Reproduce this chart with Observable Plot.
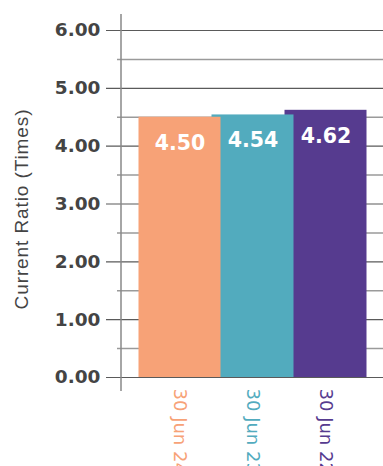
<!DOCTYPE html>
<html>
<head>
<meta charset="utf-8">
<script src="https://cdn.jsdelivr.net/npm/d3@7"></script>
<script src="https://cdn.jsdelivr.net/npm/@observablehq/plot@0.6"></script>
<style>
  html, body { margin: 0; padding: 0; background: #ffffff; }
  .axis-title text { letter-spacing: 0.9px; }
</style>
</head>
<body>
<div id="chart"></div>
<script>
// Current ratio at each balance date
const periods = ["30 Jun 24", "30 Jun 23", "30 Jun 22"];
const ratios = [4.50, 4.54, 4.62];
const barColors = ["#F7A277", "#52ABBE", "#563B8F"];

// Value axis: labelled whole units, unlabelled half-unit guides
const majorTicks = [0, 1, 2, 3, 4, 5, 6];
const minorTicks = [0.5, 1.5, 2.5, 3.5, 4.5, 5.5];
const axisTitle = "Current Ratio (Times)";

const rows = periods.map((period, i) => ({period, ratio: ratios[i], color: barColors[i]}));
// Later periods are painted first so the newer bars overlap them
const paintOrder = rows.slice().reverse();

const chart = Plot.plot({
  width: 383,
  height: 466,
  marginLeft: 106,
  marginRight: 0,
  marginTop: 30,
  marginBottom: 89,
  style: {background: "#ffffff", fontFamily: "DejaVu Sans"},
  x: {domain: periods, range: [142.5, 361.5], padding: 0, axis: null},
  y: {domain: [0, 6], axis: null},
  marks: [
    Plot.ruleY(minorTicks, {stroke: "#9a9a9a", strokeWidth: 1.5, insetLeft: 11}),
    Plot.ruleY(majorTicks.slice(1), {stroke: "#5a5a5a", strokeWidth: 1.2}),
    Plot.barY(paintOrder, {
      x: "period", y: "ratio", fill: "color",
      insetLeft: -4.5, insetRight: -4.5
    }),
    Plot.ruleY([0], {stroke: "#5a5a5a", strokeWidth: 1.2}),
    Plot.ruleX([periods[0]], {dx: -59, insetTop: -16, insetBottom: -14, stroke: "#888888", strokeWidth: 1.5}),
    Plot.text(rows, {
      x: "period", y: "ratio", text: d => d.ratio.toFixed(2),
      dy: 26, fill: "#ffffff", fontSize: 20.5, fontWeight: "bold", fontFamily: "DejaVu Sans"
    }),
    Plot.text(rows, {
      x: "period", y: () => 0, text: "period", rotate: 90,
      textAnchor: "start", dy: 11, fill: "color", fontSize: 18, fontFamily: "DejaVu Sans"
    }),
    Plot.axisY(majorTicks, {
      anchor: "left", tickSize: 0, tickPadding: 6, label: null,
      tickFormat: d => d.toFixed(2),
      fontSize: 18.5, fontWeight: "bold", fill: "#444444", fontFamily: "DejaVu Sans"
    }),
    Plot.text([axisTitle], {
      className: "axis-title",
      frameAnchor: "left", textAnchor: "middle", rotate: -90, dx: -85, dy: 5,
      fontSize: 19, fill: "#444444", fontFamily: "Liberation Sans"
    })
  ]
});

document.getElementById("chart").appendChild(chart);
</script>
</body>
</html>
